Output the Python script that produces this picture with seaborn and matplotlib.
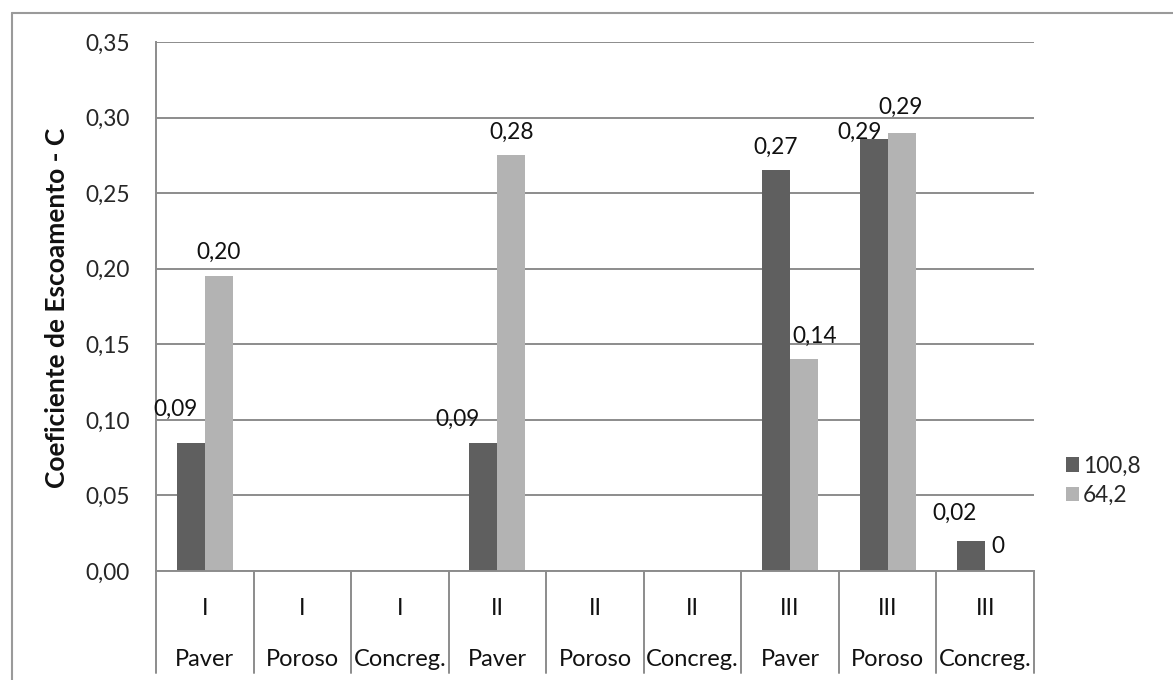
import numpy as np
import pandas as pd
import seaborn as sns
import matplotlib.pyplot as plt
import matplotlib.transforms as mtransforms
from matplotlib.lines import Line2D

# --- data -------------------------------------------------------------
groups = ["I", "I", "I", "II", "II", "II", "III", "III", "III"]
surfaces = ["Paver", "Poroso", "Concreg.", "Paver", "Poroso", "Concreg.",
            "Paver", "Poroso", "Concreg."]
series_names = ["100,8", "64,2"]
c_100_8 = [0.085, None, None, 0.085, None, None, 0.265, 0.286, 0.02]
c_64_2 = [0.195, None, None, 0.275, None, None, 0.14, 0.29, 0.0]
y_ticks = [0.00, 0.05, 0.10, 0.15, 0.20, 0.25, 0.30, 0.35]

# --- style ------------------------------------------------------------
sns.set_style("white")
plt.rcParams["font.family"] = ["Lato", "DejaVu Sans"]

DARK = "#5f5f5f"
LIGHT = "#b3b3b3"
GRID = "#8c8c8c"
FS = 16.3        # ticks, value labels, legend
FS_CAT = 17      # category axis
FS_YLAB = 19     # axis title

cat_keys = [f"{g} {s}" for g, s in zip(groups, surfaces)]
rows = []
for name, vals in zip(series_names, [c_100_8, c_64_2]):
    for key, v in zip(cat_keys, vals):
        if v is not None:
            rows.append({"cat": key, "serie": name, "C": v})
df = pd.DataFrame(rows)

fig = plt.figure(figsize=(11.73, 6.80), dpi=100)
ax = fig.add_axes([0.133, 0.1603, 0.7485, 0.7779])

sns.barplot(data=df, x="cat", y="C", hue="serie", order=cat_keys,
            hue_order=series_names, palette=[DARK, LIGHT], width=0.574,
            gap=0, saturation=1, errorbar=None, linewidth=0, ax=ax)

ax.set_xlim(-0.5, len(cat_keys) - 0.5)
ax.set_ylim(0, 0.35)
ax.set_yticks(y_ticks)
ax.set_yticklabels([f"{t:.2f}".replace(".", ",") for t in y_ticks], fontsize=FS)
ax.tick_params(axis="y", length=5.8, width=1.4, color=GRID, pad=13)
ax.tick_params(axis="x", length=0, labelbottom=False)
ax.set_xlabel("")
ax.set_ylabel("")
ax.grid(axis="y", color=GRID, lw=1.4)
ax.set_axisbelow(True)
for side in ("top", "right"):
    ax.spines[side].set_visible(False)
for side in ("left", "bottom"):
    ax.spines[side].set_color(GRID)
    ax.spines[side].set_linewidth(1.4)

# value labels: baseline offsets in pixels from each bar top
label_offsets = {
    ("100,8", 0): (-15, 27),
    ("100,8", 3): (-26, 17),
    ("64,2", 6): (11, 17),
    ("100,8", 7): (-14, 0),
    ("64,2", 7): (-1, 19),
    ("100,8", 8): (-17, 21),
    ("64,2", 8): (-1, 18),
}
for cont, name in zip(ax.containers, series_names):
    for bar in cont:
        h = bar.get_height()
        if np.isnan(h):
            continue
        xc = bar.get_x() + bar.get_width() / 2
        idx = int(round(xc))
        txt = "0" if h == 0 else f"{h:.2f}".replace(".", ",")
        dx, dy = label_offsets.get((name, idx), (0, 17))
        ax.annotate(txt, (xc, h), xytext=(dx, dy), textcoords="offset pixels",
                    ha="center", va="baseline", fontsize=FS, color="#111111")

# two-level category axis with separators
trans = mtransforms.blended_transform_factory(ax.transData, ax.transAxes)
for b in np.arange(len(cat_keys) + 1) - 0.5:
    ax.add_line(Line2D([b, b], [0, -0.1928], transform=trans, clip_on=False,
                       color=GRID, lw=1.4))
for i, (g, s) in enumerate(zip(groups, surfaces)):
    ax.text(i, -0.0832, g, transform=trans, ha="center", va="baseline",
            fontsize=FS_CAT, color="#111111")
    ax.text(i, -0.1796, s, transform=trans, ha="center", va="baseline",
            fontsize=FS_CAT, color="#111111")

fig.text(57 / 1173, 1 - 308 / 680, "Coeficiente de Escoamento - C",
         rotation=90, ha="center", va="center", fontsize=FS_YLAB,
         fontweight="bold", color="#111111")

sns.move_legend(ax, "center left", bbox_to_anchor=(0.9088, 0.293),
                bbox_transform=fig.transFigure, frameon=False, title=None,
                handlelength=0.58, handleheight=0.58, handletextpad=0.18,
                labelspacing=0.38, borderpad=0, borderaxespad=0,
                fontsize=FS)

# outer chart frame
fig.add_artist(Line2D([0.0102, 0.0102], [0, 0.9809], color="#9a9a9a", lw=1.5))
fig.add_artist(Line2D([0.0102, 1.0], [0.9809, 0.9809], color="#9a9a9a", lw=1.5))

fig.savefig("out.png", dpi=100, facecolor="white")
